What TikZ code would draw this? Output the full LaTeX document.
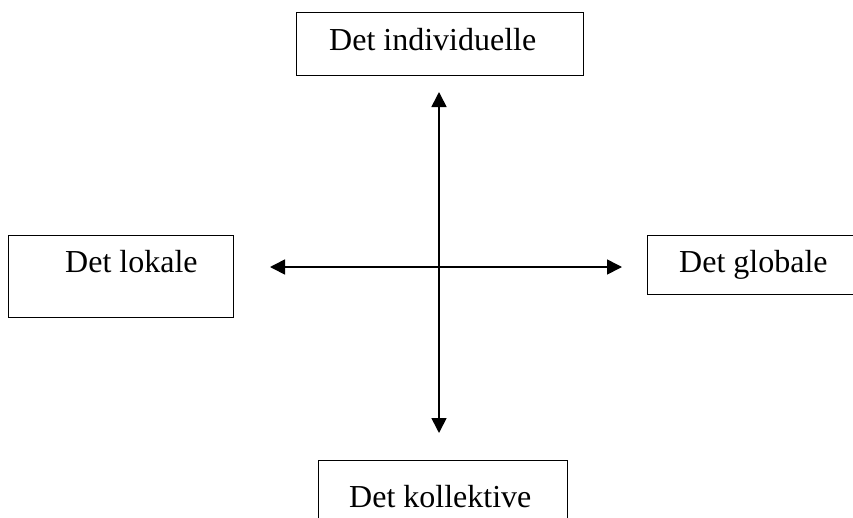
\documentclass[tikz,border=0pt]{standalone}
\usepackage{fontspec}
\setmainfont{Liberation Serif}
\usetikzlibrary{arrows.meta}

\begin{document}
\begin{tikzpicture}[
        x=1pt, y=-1pt,
        box/.style={draw, line width=1.3pt, inner sep=0pt, anchor=north west},
        label/.style={inner sep=0pt, anchor=base west, font=\fontsize{32}{38}\selectfont},
        axis/.style={line width=1.6pt, {Triangle[length=15pt,width=15pt]}-{Triangle[length=15pt,width=15pt]}}
    ]
        \useasboundingbox (0,0) rectangle (853,517);
        \clip (0,0) rectangle (853,517);

        % boxes
        \node[box, minimum width=287pt, minimum height=63pt] (indbox) at (296,12) {};
        \node[box, minimum width=225pt, minimum height=82pt] (lokbox) at (8,235) {};
        \node[box, minimum width=230pt, minimum height=59pt] (globox) at (647,235) {};
        \node[box, minimum width=249pt, minimum height=80pt] (kolbox) at (318,460) {};

        % texts
        \node[label] (ind) at (329,50) {Det individuelle};
        \node[label] (lok) at (65,272) {Det lokale};
        \node[label] (glo) at (679,272) {Det globale};
        \node[label] (kol) at (349,507) {Det kollektive};

        % axes
        \coordinate (top) at (439,92);
        \coordinate (bottom) at (439,433);
        \coordinate (left) at (270,267);
        \coordinate (right) at (622,267);
        \draw[axis] (top) -- (bottom);
        \draw[axis] (left) -- (right);
    \end{tikzpicture}
\end{document}
